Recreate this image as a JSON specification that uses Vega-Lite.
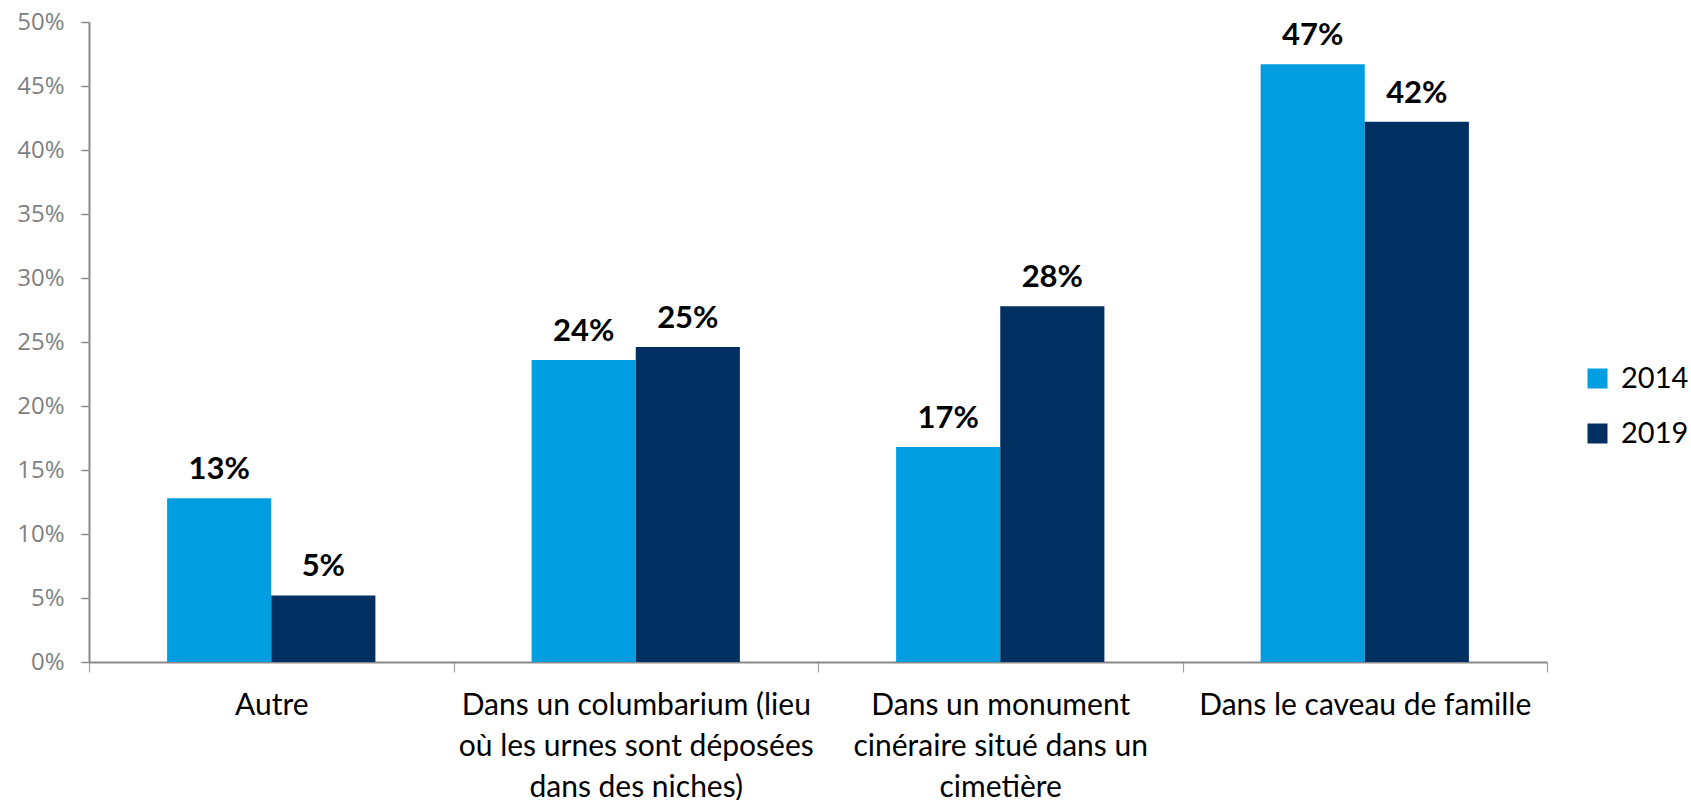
{
  "$schema": "https://vega.github.io/schema/vega-lite/v6.json",
  "width": 1458,
  "height": 640,
  "autosize": {"type": "none"},
  "padding": {"left": 89, "top": 22, "right": 144, "bottom": 138},
  "background": "white",
  "config": {"view": {"stroke": null}, "font": "Lato"},
  "data": {
    "values": [
      {"lieu": "Autre", "annee": "2014", "valeur": 0.128},
      {"lieu": "Autre", "annee": "2019", "valeur": 0.052},
      {"lieu": "Dans un columbarium (lieu|où les urnes sont déposées|dans des niches)", "annee": "2014", "valeur": 0.236},
      {"lieu": "Dans un columbarium (lieu|où les urnes sont déposées|dans des niches)", "annee": "2019", "valeur": 0.246},
      {"lieu": "Dans un monument|cinéraire situé dans un|cimetière", "annee": "2014", "valeur": 0.168},
      {"lieu": "Dans un monument|cinéraire situé dans un|cimetière", "annee": "2019", "valeur": 0.278},
      {"lieu": "Dans le caveau de famille", "annee": "2014", "valeur": 0.467},
      {"lieu": "Dans le caveau de famille", "annee": "2019", "valeur": 0.422}
    ]
  },
  "encoding": {
    "x": {
      "field": "lieu",
      "type": "nominal",
      "sort": null,
      "scale": {"paddingInner": 0, "paddingOuter": 0},
      "axis": {
        "title": null,
        "labelAngle": 0,
        "tickBand": "extent",
        "tickSize": 10,
        "tickWidth": 1.2,
        "domainWidth": 2,
        "domainColor": "#898989",
        "tickColor": "#a0a0a0",
        "labelColor": "#000000",
        "labelFont": "Lato",
        "labelFontSize": 30,
        "labelLineHeight": 41,
        "labelPadding": 18,
        "labelLimit": 500,
        "labelExpr": "split(datum.label, '|')"
      }
    },
    "xOffset": {
      "field": "annee",
      "type": "nominal",
      "scale": {"paddingOuter": 0.75, "paddingInner": 0}
    },
    "y": {
      "field": "valeur",
      "type": "quantitative",
      "scale": {"domain": [0, 0.5], "nice": false},
      "axis": {
        "title": null,
        "values": [0, 0.05, 0.1, 0.15, 0.2, 0.25, 0.3, 0.35, 0.4, 0.45, 0.5],
        "format": ".0%",
        "grid": false,
        "tickSize": 8,
        "tickWidth": 1.5,
        "domainWidth": 2,
        "domainColor": "#898989",
        "tickColor": "#898989",
        "labelColor": "#7f7f7f",
        "labelFont": "Open Sans",
        "labelFontSize": 24,
        "labelPadding": 17,
        "labelFlush": false,
        "labelOverlap": false
      }
    }
  },
  "layer": [
    {
      "mark": {"type": "bar"},
      "encoding": {
        "color": {
          "field": "annee",
          "type": "nominal",
          "scale": {"domain": ["2014", "2019"], "range": ["#009EE0", "#003062"]},
          "legend": {
            "title": null,
            "orient": "none",
            "legendX": 1494,
            "legendY": 342,
            "padding": 0,
            "symbolType": "square",
            "symbolSize": 400,
            "symbolStrokeWidth": 0,
            "labelFont": "Lato",
            "labelFontSize": 29,
            "labelColor": "#000000",
            "labelOffset": 9,
            "rowPadding": 25
          }
        }
      }
    },
    {
      "mark": {"type": "text", "font": "Lato", "fontWeight": "bold", "fontSize": 31, "baseline": "alphabetic", "dy": -19, "color": "#000000"},
      "encoding": {
        "text": {"field": "valeur", "type": "quantitative", "format": ".0%"}
      }
    }
  ]
}
